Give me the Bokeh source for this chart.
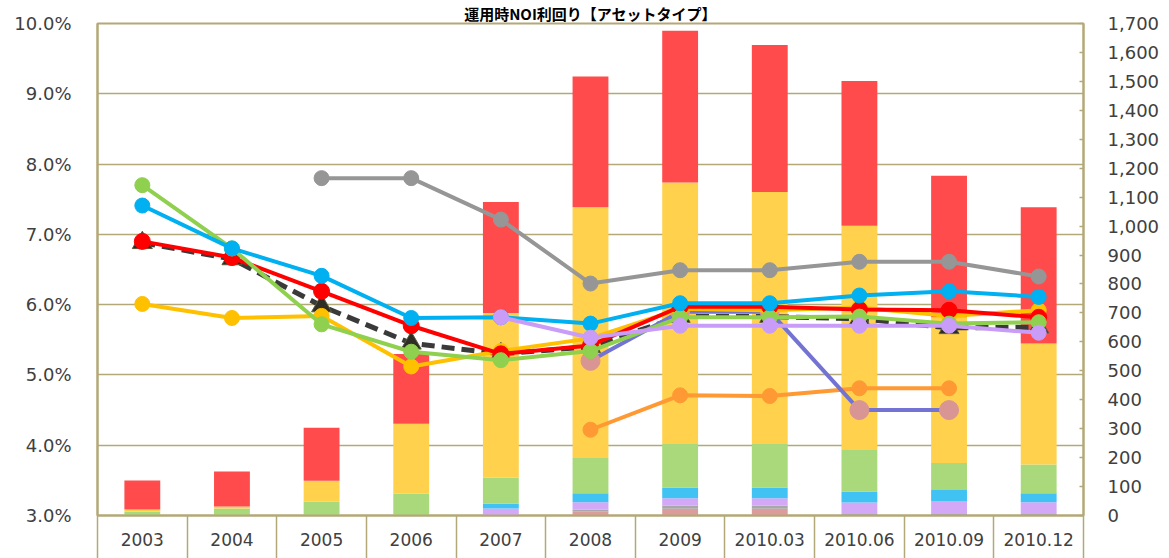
import numpy as np
from bokeh.plotting import figure
from bokeh.models import (Range1d, LinearAxis, FixedTicker, PrintfTickFormatter,
                          NumeralTickFormatter, ColumnDataSource, Grid)
from bokeh.embed import file_html
from bokeh.resources import INLINE

nan = np.nan

# ---------------- data ----------------
categories = ["2003", "2004", "2005", "2006", "2007", "2008", "2009",
              "2010.03", "2010.06", "2010.09", "2010.12"]

# stacked bars (right axis), bottom -> top
bar_pink = [0, 0, 0, 0, 0, 15, 23, 23, 0, 0, 0]
bar_grey = [0, 0, 0, 0, 0, 5, 11, 11, 5, 5, 5]
bar_purple = [0, 0, 0, 0, 24, 26, 26, 26, 40, 43, 41]
bar_blue = [0, 0, 0, 0, 17, 31, 37, 37, 38, 40, 31]
bar_green = [14, 24, 48, 76, 90, 124, 150, 150, 146, 93, 99]
bar_yellow = [7, 7, 72, 241, 569, 864, 904, 871, 772, 504, 418]
bar_red = [100, 121, 183, 241, 383, 452, 524, 508, 500, 489, 471]

# NOI yield lines (left axis, %)
line_total = [6.88, 6.65, 5.98, 5.45, 5.30, 5.40, 5.83, 5.83, 5.80, 5.67, 5.68]
line_red = [6.90, 6.67, 6.19, 5.70, 5.30, 5.42, 5.97, 5.97, 5.93, 5.92, 5.82]
line_blue = [7.41, 6.80, 6.41, 5.81, 5.82, 5.73, 6.02, 6.02, 6.13, 6.19, 6.11]
line_green = [7.70, 6.80, 5.72, 5.33, 5.21, 5.34, 5.82, 5.82, 5.83, 5.73, 5.75]
line_gold = [6.01, 5.81, 5.84, 5.12, 5.34, 5.52, 5.94, 5.92, 5.96, 5.84, 5.92]
line_grey = [nan, nan, 7.80, 7.80, 7.21, 6.30, 6.49, 6.49, 6.61, 6.61, 6.40]
line_lavender = [nan, nan, nan, nan, 5.82, 5.53, 5.70, 5.70, 5.70, 5.70, 5.60]
line_purple = [nan, nan, nan, nan, nan, 5.20, 5.90, 5.90, 4.50, 4.50, nan]
line_orange = [nan, nan, nan, nan, nan, 4.22, 4.71, 4.70, 4.81, 4.81, nan]

title_text = "運用時NOI利回り【アセットタイプ】"
left_ticks = [3, 4, 5, 6, 7, 8, 9, 10]
right_ticks = list(range(0, 1701, 100))

# ---------------- figure ----------------
KHAKI = "#b3a878"
xs = [i + 0.5 for i in range(len(categories))]

p = figure(width=1169, height=558, x_range=Range1d(0, len(categories)),
           y_range=Range1d(3.0, 10.0), x_axis_type=None, y_axis_type=None,
           output_backend="svg", toolbar_location=None, title=title_text,
           min_border_left=97, min_border_right=86, min_border_top=22,
           min_border_bottom=43)
p.title.align = "center"
p.title.text_font = "Noto Sans CJK JP"
p.title.text_font_size = "15px"
p.title.text_font_style = "bold"
p.title.text_color = "#000000"
p.title.standoff = 0
p.title.offset = -25
p.outline_line_color = KHAKI
p.outline_line_width = 2
p.background_fill_color = "white"
p.border_fill_color = "white"
p.extra_y_ranges = {"right": Range1d(0, 1700)}

# grid
yticker = FixedTicker(ticks=left_ticks)
p.add_layout(Grid(dimension=1, ticker=yticker, grid_line_color=KHAKI,
                  grid_line_width=1.5))

# left axis
ly = LinearAxis(ticker=yticker, formatter=PrintfTickFormatter(format="%.1f%%"))
ly.axis_line_color = KHAKI
ly.axis_line_width = 2
ly.major_tick_out = 0
ly.major_tick_in = 0
ly.minor_tick_line_color = None
ly.major_label_standoff = 26
ly.major_label_text_font = "DejaVu Sans"
ly.major_label_text_font_size = "18px"
ly.major_label_text_color = "#404040"
p.add_layout(ly, "left")

# right axis
ry = LinearAxis(y_range_name="right", ticker=FixedTicker(ticks=right_ticks),
                formatter=NumeralTickFormatter(format="0,0"))
ry.axis_line_color = KHAKI
ry.axis_line_width = 2
ry.major_tick_out = 0
ry.major_tick_in = 4
ry.major_tick_line_color = KHAKI
ry.major_tick_line_width = 1.5
ry.minor_tick_line_color = None
ry.major_label_standoff = 24
ry.major_label_text_font = "DejaVu Sans"
ry.major_label_text_font_size = "18px"
ry.major_label_text_color = "#404040"
p.add_layout(ry, "right")

# bottom axis: labels at centres, separators as long minor ticks
bx = LinearAxis(ticker=FixedTicker(ticks=xs, minor_ticks=list(range(len(categories) + 1))))
bx.major_label_overrides = {x: c for x, c in zip(xs, categories)}
bx.axis_line_color = KHAKI
bx.axis_line_width = 2
bx.major_tick_out = 0
bx.major_tick_in = 0
bx.minor_tick_out = 43
bx.minor_tick_in = 0
bx.minor_tick_line_color = KHAKI
bx.minor_tick_line_width = 1.5
bx.major_label_standoff = -26
bx.major_label_text_font = "DejaVu Sans"
bx.major_label_text_font_size = "17px"
bx.major_label_text_color = "#404040"
p.add_layout(bx, "below")

# bars
src = ColumnDataSource(dict(x=xs, pink=bar_pink, grey=bar_grey, purple=bar_purple,
                            blue=bar_blue, green=bar_green, yellow=bar_yellow,
                            red=bar_red))
stack = ["pink", "grey", "purple", "blue", "green", "yellow", "red"]
bar_colors = ["#dc9c9c", "#a8a8a8", "#d3a8f6", "#40c2f2", "#a9d97a",
              "#ffd14d", "#ff4b4b"]
p.vbar_stack(stack, x="x", width=0.4, color=bar_colors, source=src,
             y_range_name="right", line_color=None)

# lines
p.line(xs, line_total, color="#3a3a3a", line_width=5, line_dash="13 7")
p.scatter(xs, line_total, marker="triangle", size=20, fill_color="#2e2e26",
          line_color="#5a5a40")

def series(vals, color, mcolor=None, size=15, width=4):
    p.line(xs, vals, color=color, line_width=width)
    p.scatter(xs, vals, size=size, color=mcolor or color)

series(line_orange, "#ff9933")
series(line_purple, "#7373d4", mcolor="#d99594", size=19)
series(line_grey, "#969696")
series(line_gold, "#ffc000")
series(line_red, "#ff0000", size=16)
series(line_green, "#8fd04f")
series(line_blue, "#00b0f0")
series(line_lavender, "#c99cf8")

open("out.html", "w").write(file_html(p, INLINE))
